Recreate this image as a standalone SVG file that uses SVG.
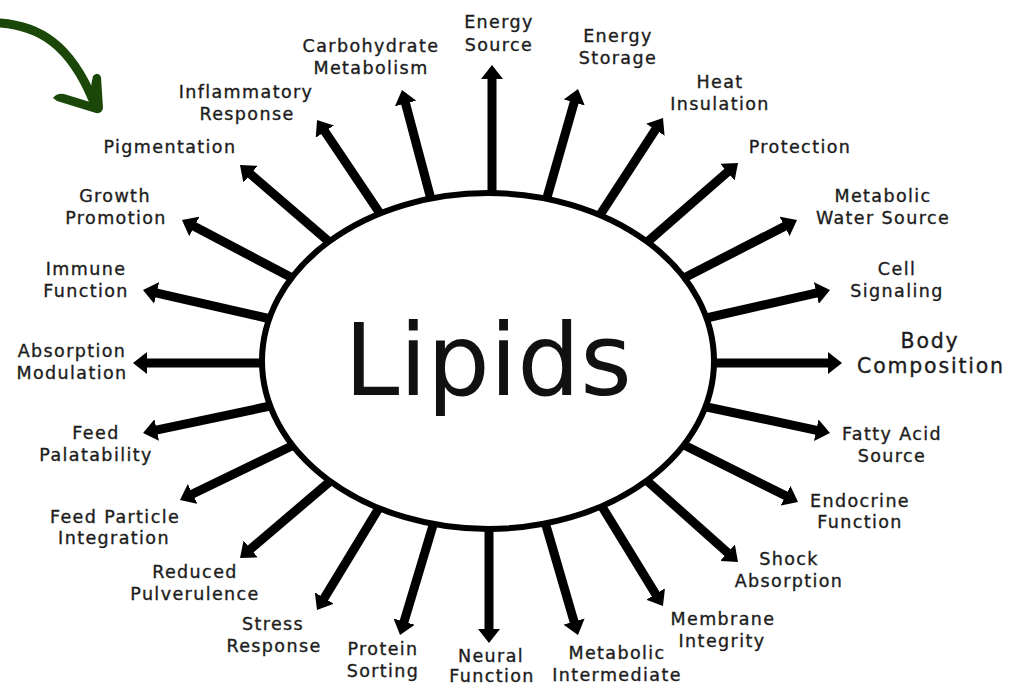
<svg xmlns="http://www.w3.org/2000/svg" width="1012" height="686" viewBox="0 0 1012 686">
<defs>
<marker id="ah" viewBox="0 0 14 22" refX="3" refY="11" markerWidth="14" markerHeight="22" markerUnits="userSpaceOnUse" orient="auto">
<path d="M0,0 L14,11 L0,22 Z" fill="#000"/>
</marker>
<style>
.c line{stroke:#000;stroke-width:9;marker-end:url(#ah)}
text{font-family:"DejaVu Sans","Liberation Sans",sans-serif;fill:#1c1c1c;text-anchor:middle}
.l,.b{stroke:#1c1c1c;stroke-width:0.35px}
.l{font-size:17.5px;letter-spacing:1.4px}
.b{font-size:20.5px;letter-spacing:1.8px}
</style>
</defs>
<rect width="1012" height="686" fill="#fff"/>
<g id="green-arrow" fill="#1b4709">
<path d="M0,23 C40,26 70,45 93,100" fill="none" stroke="#1b4709" stroke-width="9" stroke-linecap="round"/>
<path d="M53,98 Q57,93 64,94 L90,102 Q90,88 93,76 Q98,71 101,77 L103,108 Q102,114 96,113 L57,101 Z"/>
</g>
<g class="c" id="connectors">
<line x1="492" y1="200" x2="492" y2="76"/>
<line x1="546" y1="201" x2="575" y2="99.6"/>
<line x1="432" y1="203" x2="404.8" y2="100.6"/>
<line x1="598" y1="218" x2="657" y2="127.2"/>
<line x1="383" y1="218" x2="323.2" y2="129.1"/>
<line x1="645" y1="244" x2="729.7" y2="170.2"/>
<line x1="334" y1="246" x2="248.3" y2="172.2"/>
<line x1="682" y1="279" x2="787.2" y2="225"/>
<line x1="298" y1="281" x2="191.7" y2="225.1"/>
<line x1="702" y1="319" x2="819.3" y2="292.4"/>
<line x1="275" y1="320" x2="153.7" y2="292.4"/>
<line x1="706" y1="363" x2="831" y2="363"/>
<line x1="270" y1="363" x2="144" y2="363"/>
<line x1="702" y1="406" x2="819.2" y2="430.8"/>
<line x1="275" y1="405" x2="153.8" y2="430.7"/>
<line x1="682" y1="444" x2="788.2" y2="497.1"/>
<line x1="298" y1="443" x2="189.9" y2="495.2"/>
<line x1="645" y1="479" x2="729.8" y2="554.7"/>
<line x1="334" y1="478" x2="248.4" y2="550.9"/>
<line x1="601" y1="505" x2="657.2" y2="596.6"/>
<line x1="382" y1="503" x2="322.7" y2="600.6"/>
<line x1="545" y1="522" x2="574.9" y2="624.4"/>
<line x1="434" y1="522" x2="403.2" y2="624.5"/>
<line x1="489" y1="525" x2="489" y2="632"/>
</g>
<g id="lipids">
<ellipse cx="488" cy="361" rx="226" ry="168" fill="#fff" stroke="#000" stroke-width="6"/>
<text x="488" y="395" style="font-size:99px;fill:#111">Lipids</text>
</g>
<g id="n-energy-source"><text class="l" x="499" y="28">Energy</text><text class="l" x="499" y="51">Source</text></g>
<g id="n-energy-storage"><text class="l" x="618" y="42">Energy</text><text class="l" x="618" y="64">Storage</text></g>
<g id="n-carbohydrate"><text class="l" x="371" y="52">Carbohydrate</text><text class="l" x="371" y="74">Metabolism</text></g>
<g id="n-heat"><text class="l" x="720" y="88">Heat</text><text class="l" x="720" y="110">Insulation</text></g>
<g id="n-inflammatory"><text class="l" x="246" y="98">Inflammatory</text><text class="l" x="247" y="120">Response</text></g>
<g id="n-pigmentation"><text class="l" x="170" y="153">Pigmentation</text></g>
<g id="n-protection"><text class="l" x="800" y="153">Protection</text></g>
<g id="n-growth"><text class="l" x="115" y="202">Growth</text><text class="l" x="116" y="224">Promotion</text></g>
<g id="n-water"><text class="l" x="883" y="202">Metabolic</text><text class="l" x="883" y="224">Water Source</text></g>
<g id="n-immune"><text class="l" x="86" y="275">Immune</text><text class="l" x="86" y="297">Function</text></g>
<g id="n-cell"><text class="l" x="897" y="275">Cell</text><text class="l" x="897" y="297">Signaling</text></g>
<g id="n-absorption"><text class="l" x="72" y="357">Absorption</text><text class="l" x="72" y="379">Modulation</text></g>
<g id="n-body"><text class="b" x="930" y="348">Body</text><text class="b" x="931" y="373">Composition</text></g>
<g id="n-palatability"><text class="l" x="96" y="439">Feed</text><text class="l" x="96" y="461">Palatability</text></g>
<g id="n-fatty"><text class="l" x="892" y="440">Fatty Acid</text><text class="l" x="892" y="462">Source</text></g>
<g id="n-endocrine"><text class="l" x="860" y="507">Endocrine</text><text class="l" x="860" y="528">Function</text></g>
<g id="n-particle"><text class="l" x="115" y="523">Feed Particle</text><text class="l" x="114" y="544">Integration</text></g>
<g id="n-shock"><text class="l" x="789" y="565">Shock</text><text class="l" x="789" y="587">Absorption</text></g>
<g id="n-pulverulence"><text class="l" x="195" y="578">Reduced</text><text class="l" x="195" y="600">Pulverulence</text></g>
<g id="n-membrane"><text class="l" x="723" y="625">Membrane</text><text class="l" x="722" y="647">Integrity</text></g>
<g id="n-stress"><text class="l" x="273" y="630">Stress</text><text class="l" x="274" y="652">Response</text></g>
<g id="n-protein"><text class="l" x="383" y="655">Protein</text><text class="l" x="383" y="677">Sorting</text></g>
<g id="n-neural"><text class="l" x="491" y="662">Neural</text><text class="l" x="492" y="682">Function</text></g>
<g id="n-intermediate"><text class="l" x="617" y="659">Metabolic</text><text class="l" x="617" y="681">Intermediate</text></g>
</svg>
